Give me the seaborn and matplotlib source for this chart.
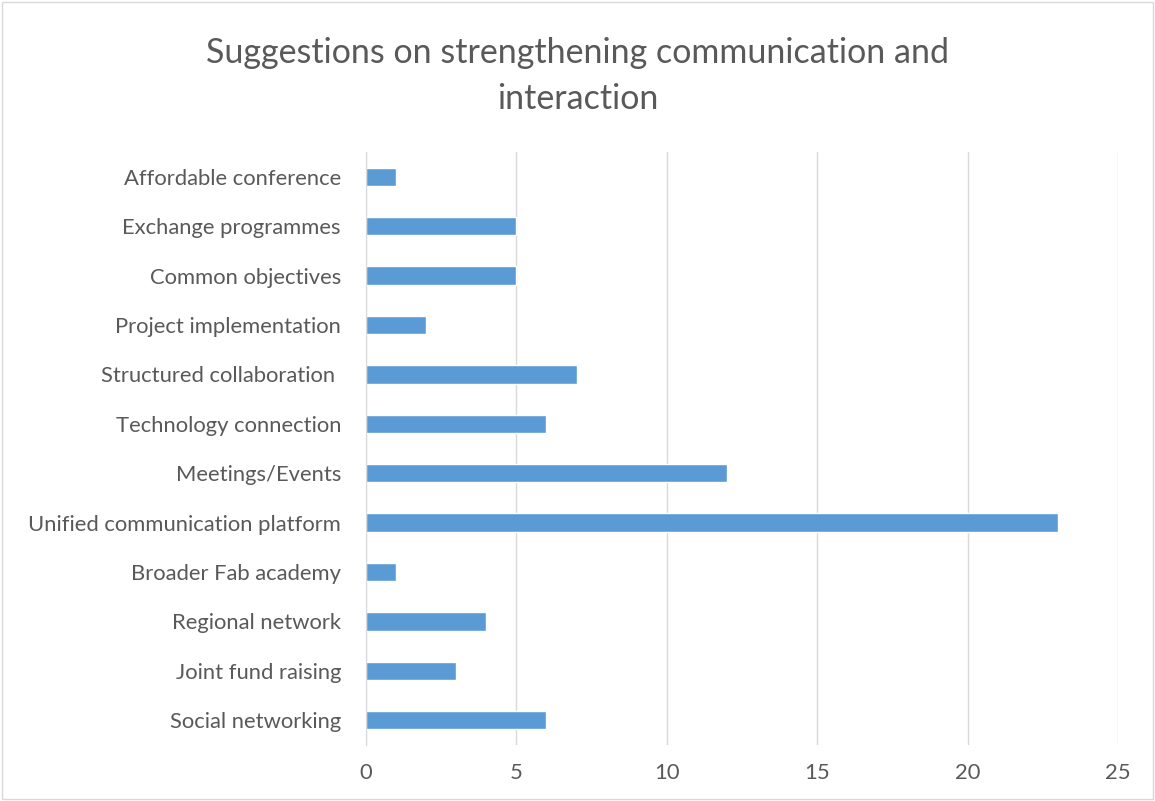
import matplotlib
matplotlib.use("Agg")
import matplotlib.pyplot as plt
import seaborn as sns
import pandas as pd

categories = ["Affordable conference", "Exchange programmes", "Common objectives",
              "Project implementation", "Structured collaboration ", "Technology connection",
              "Meetings/Events", "Unified communication platform", "Broader Fab academy",
              "Regional network", "Joint fund raising", "Social networking"]
values = [1, 5, 5, 2, 7, 6, 12, 23, 1, 4, 3, 6]
xticks = [0, 5, 10, 15, 20, 25]

df = pd.DataFrame({"cat": categories, "val": values})

sns.set_style("white")
plt.rcParams['font.family'] = ['Lato', 'DejaVu Sans']

fig = plt.figure(figsize=(11.55, 8.01), dpi=100)
ax = fig.add_axes([366/1155, 1-745/801, (1118-366)/1155, (745-152)/801])

sns.barplot(data=df, x="val", y="cat", orient="h", color="#5b9bd5",
            width=0.37, ax=ax, saturation=1)

ax.set_xlim(0, 25)
ax.set_xticks(xticks)
ax.set_xlabel("")
ax.set_ylabel("")
ax.grid(axis="x", color="#d9d9d9", linewidth=1)
ax.set_axisbelow(True)
for s in ["top", "right", "bottom"]:
    ax.spines[s].set_visible(False)
ax.spines["left"].set_color("#d9d9d9")
ax.tick_params(axis="both", length=0, labelsize=15.8, colors="#595959")
ax.tick_params(axis="y", pad=18)
ax.tick_params(axis="x", pad=13)

fig.text(0.5, 1-76/801, "Suggestions on strengthening communication and\ninteraction",
         ha="center", va="center", fontsize=24.5, color="#595959", linespacing=1.55)

border = plt.Rectangle((0.002, 0.002), 0.996, 0.996, transform=fig.transFigure,
                       fill=False, edgecolor="#d9d9d9", linewidth=1)
fig.patches.append(border)

fig.savefig("out.png", dpi=100, facecolor="white")
